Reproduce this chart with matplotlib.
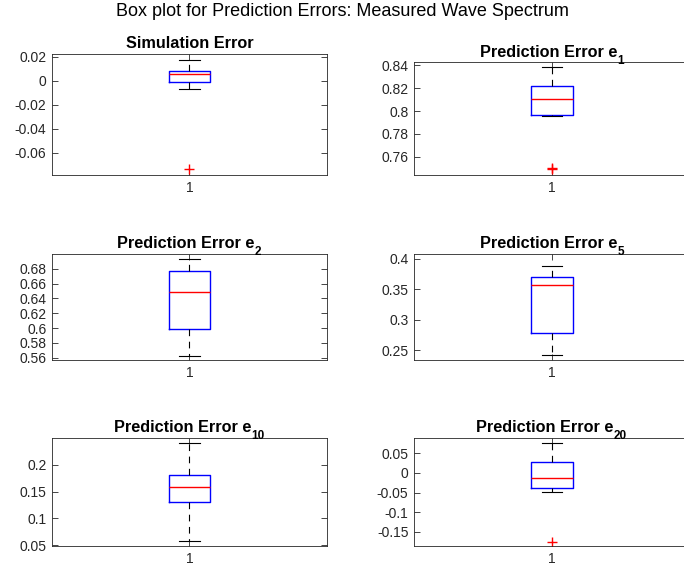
"""
Box plots of the prediction errors for the measured wave spectrum,
one panel per prediction horizon.
"""
import numpy as np
import matplotlib
matplotlib.use("Agg")
import matplotlib.pyplot as plt
from matplotlib.ticker import FuncFormatter

plt.rcParams['font.family'] = ['Liberation Sans', 'DejaVu Sans']

# Panel titles (main text, subscript)
titles = ['Simulation Error', 'Prediction Error e', 'Prediction Error e',
          'Prediction Error e', 'Prediction Error e', 'Prediction Error e']
subscripts = ['', '1', '2', '5', '10', '20']

# Box statistics per panel
medians = [0.0056, 0.8103, 0.6493, 0.3563, 0.1594, -0.0138]
q1 = [-0.0014, 0.7970, 0.5988, 0.2784, 0.1308, -0.0378]
q3 = [0.0081, 0.8219, 0.6773, 0.3694, 0.1807, 0.0286]
whisk_lo = [-0.0067, 0.7961, 0.5627, 0.2425, 0.0575, -0.0496]
whisk_hi = [0.0175, 0.8385, 0.6931, 0.3874, 0.2406, 0.0755]
outliers = [[-0.0736], [0.7495, 0.7502], [], [], [], [-0.1745]]

# Axis limits and tick values
y_limits = [(-0.0786, 0.0222), (0.744, 0.8429), (0.5569, 0.6999),
            (0.2343, 0.4077), (0.0487, 0.2499), (-0.1857, 0.0883)]
y_ticks = [
    [-0.06, -0.04, -0.02, 0, 0.02],
    [0.76, 0.78, 0.80, 0.82, 0.84],
    [0.56, 0.58, 0.60, 0.62, 0.64, 0.66, 0.68],
    [0.25, 0.30, 0.35, 0.40],
    [0.05, 0.10, 0.15, 0.20],
    [-0.15, -0.10, -0.05, 0, 0.05],
]

# Axes rectangles [left, bottom, width, height]
positions = [
    [0.076, 0.693, 0.402, 0.2123],
    [0.6053, 0.693, 0.4035, 0.198],
    [0.076, 0.3684, 0.402, 0.186],
    [0.6053, 0.3684, 0.4035, 0.186],
    [0.076, 0.0421, 0.402, 0.1895],
    [0.6053, 0.0421, 0.4035, 0.1895],
]

AX_COLOR = '#262626'
FIG_W_PX = 684


def fmt_tick(v, _pos):
    s = f'{round(v, 4):g}'
    return '0' if s == '-0' else s


def add_title(ax, text, sub, width_frac):
    # Subscripted titles: shift the main part left so the whole label stays centred
    sub_px = 6.6 * len(sub) + 1 if sub else 0
    x = 0.5 - (sub_px / 2) / (width_frac * FIG_W_PX)
    main = ax.set_title(text, fontsize=11.7, fontweight='bold', pad=4, x=x)
    if sub:
        # x from the end of the title text, y from its baseline
        ax.annotate(sub, xy=(1, main.get_position()[1]),
                    xycoords=(main, main.get_transform()),
                    xytext=(0.3, -5), textcoords='offset points',
                    ha='left', va='baseline', fontsize=8.5, fontweight='bold')


def draw_panel(ax, i):
    stats = [{
        'med': medians[i], 'q1': q1[i], 'q3': q3[i],
        'whislo': whisk_lo[i], 'whishi': whisk_hi[i],
        'fliers': np.array(outliers[i]), 'label': '1',
    }]
    ax.bxp(stats, positions=[1], widths=0.15,
           boxprops=dict(color='blue', linewidth=1.0),
           medianprops=dict(color='red', linewidth=1.0),
           whiskerprops=dict(color='black', linewidth=0.8, linestyle=(0, (6, 5))),
           capprops=dict(color='black', linewidth=0.8),
           flierprops=dict(marker='+', markeredgecolor='red', markersize=7,
                           markeredgewidth=1.0, linestyle='none'))
    ax.set_xlim(0.5, 1.5)
    ax.set_ylim(*y_limits[i])
    ax.set_yticks(y_ticks[i])
    ax.yaxis.set_major_formatter(FuncFormatter(fmt_tick))
    ax.set_xticks([1])
    ax.set_xticklabels(['1'])
    ax.tick_params(direction='in', top=True, right=True, length=4,
                   width=0.6, colors=AX_COLOR, labelsize=10, pad=4)
    for sp in ax.spines.values():
        sp.set_color(AX_COLOR)
        sp.set_linewidth(0.6)
    add_title(ax, titles[i], subscripts[i], positions[i][2])


def main():
    fig = plt.figure(figsize=(6.84, 5.70), dpi=100)
    for i, pos in enumerate(positions):
        ax = fig.add_axes(pos)
        draw_panel(ax, i)
    fig.suptitle('Box plot for Prediction Errors: Measured Wave Spectrum',
                 fontsize=13, y=0.994, va='top')
    fig.savefig('out.png', dpi=100)


if __name__ == '__main__':
    main()
